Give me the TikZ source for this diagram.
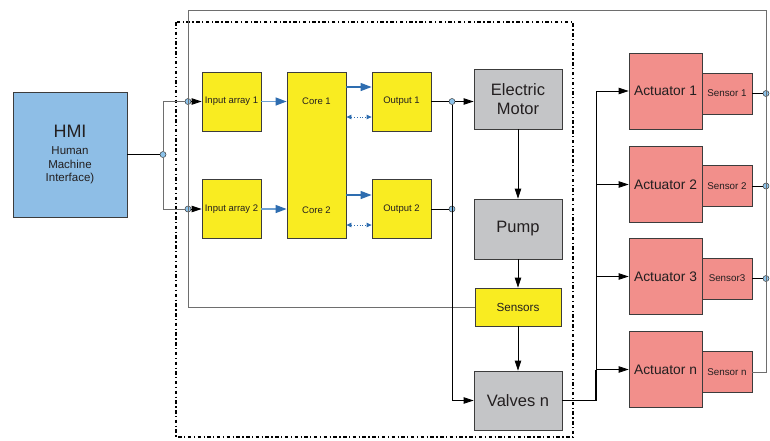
\documentclass[tikz,border=0pt]{standalone}
\usepackage{fontspec}
\setmainfont{Liberation Sans}
\usetikzlibrary{arrows.meta}
\definecolor{hmiblue}{RGB}{142,190,230}
\definecolor{boxyellow}{RGB}{249,236,33}
\definecolor{boxgray}{RGB}{196,197,199}
\definecolor{boxred}{RGB}{242,143,139}
\definecolor{dotblue}{RGB}{141,195,234}
\definecolor{edgegray}{RGB}{60,60,60}
\definecolor{wiregray}{RGB}{110,110,110}
\definecolor{flowblue}{RGB}{46,109,176}
\definecolor{lineblue}{RGB}{110,160,210}
\definecolor{inktext}{RGB}{35,31,32}
\begin{document}
\begin{tikzpicture}[x=1pt,y=-1pt,
  box/.style={draw=edgegray,line width=0.8pt,inner sep=0pt,text=inktext},
  smallbox/.style={box,fill=boxyellow,minimum width=59pt,minimum height=59pt,font=\fontsize{9.5}{11}\selectfont},
  plantbox/.style={box,fill=boxgray,minimum width=88pt,minimum height=60pt,font=\fontsize{16.5}{19}\selectfont,align=center},
  actbox/.style={box,fill=boxred,minimum width=73pt,minimum height=76pt,font=\fontsize{13.8}{15}\selectfont},
  sensbox/.style={box,fill=boxred,minimum width=50pt,minimum height=41pt,font=\fontsize{9.8}{11}\selectfont},
  junction/.style={circle,draw=edgegray,fill=dotblue,line width=0.5pt,inner sep=0pt,minimum size=6pt},
  wire/.style={draw=wiregray,line width=0.8pt},
  blackwire/.style={draw=black,line width=0.9pt},
  tip/.style={-{Triangle[length=10pt,width=6.5pt]}},
  feed/.style={draw=lineblue,line width=1.3pt,-{Triangle[length=11pt,width=8pt,color=flowblue]}},
  flow/.style={draw=flowblue,line width=1.3pt,-{Triangle[length=11pt,width=8pt]}},
  shared/.style={draw=flowblue,line width=0.8pt,dotted,{Triangle[length=5pt,width=4.5pt]}-{Triangle[length=5pt,width=4.5pt]}}]
\useasboundingbox (0,0) rectangle (770,440);

% controller boundary
\draw[line width=2.2pt,dash pattern=on 3.5pt off 2.5pt on 1.2pt off 2.5pt] (176,22) rectangle (573,437);

% boxes
\node[box,fill=hmiblue,minimum width=114pt,minimum height=125pt,align=center,font=\fontsize{11.5}{13.5}\selectfont] (hmi) at (70,154.5)
  {{\fontsize{18}{20}\selectfont HMI}\\[4pt]Human\\Machine\\Interface)};
\node[smallbox] (in1) at (231.5,101.5) {Input array 1};
\node[smallbox] (in2) at (231.5,209) {Input array 2};
\node[smallbox,minimum height=166pt] (core) at (316.5,155) {};
\node[text=inktext,font=\fontsize{9.5}{11}\selectfont] (core1) at (316.5,101) {Core 1};
\node[text=inktext,font=\fontsize{9.5}{11}\selectfont] (core2) at (316.5,210) {Core 2};
\node[smallbox] (out1) at (401.5,101.5) {Output 1};
\node[smallbox] (out2) at (401.5,209) {Output 2};
\node[plantbox] (motor) at (518,99) {Electric\\Motor};
\node[plantbox] (pump) at (518,229) {Pump};
\node[box,fill=boxyellow,minimum width=86pt,minimum height=38pt,font=\fontsize{11.7}{13}\selectfont] (sensors) at (518,307) {Sensors};
\node[plantbox,minimum height=59pt] (valves) at (518,400.5) {Valves n};
\node[actbox] (act1) at (665.5,91) {Actuator 1};
\node[actbox] (act2) at (665.5,184.5) {Actuator 2};
\node[actbox] (act3) at (665.5,276.5) {Actuator 3};
\node[actbox] (actn) at (665.5,369.5) {Actuator n};
\node[sensbox] (sens1) at (727,93.5) {Sensor 1};
\node[sensbox] (sens2) at (727,186) {Sensor 2};
\node[sensbox] (sens3) at (727,278.5) {Sensor3};
\node[sensbox] (sensn) at (727,372) {Sensor n};

% corners and junctions
\coordinate (fbleft) at (188,10);
\coordinate (fbright) at (766,10);
\coordinate (bus) at (596,400.5);
\node[junction] (hmidot) at (163,154.5) {};
\node[junction] (in1dot) at (188,101.5) {};
\node[junction] (in2dot) at (188,209) {};
\node[junction] (out1dot) at (452,101.5) {};
\node[junction] (out2dot) at (452,209) {};
\node[junction] (s1dot) at (766,93.5) {};
\node[junction] (s2dot) at (766,186) {};
\node[junction] (s3dot) at (766,278.5) {};

% feedback loop
\draw[wire] (sensors.west) -| (fbleft) -- (fbright) |- (sensn.east);
\draw[blackwire] (sens1.east) -- (s1dot);
\draw[blackwire] (sens2.east) -- (s2dot);
\draw[blackwire] (sens3.east) -- (s3dot);

% HMI to inputs
\draw[blackwire] (hmi.east) -- (hmidot);
\draw[wire] (in1dot) -| (hmidot) |- (in2dot);
\draw[blackwire,tip] (in1dot) -- (in1.west);
\draw[blackwire,tip] (in2dot) -- (in2.west);

% inside the controller
\draw[feed] (in1.east) -- (in1.east -| core.west);
\draw[feed] (in2.east) -- (in2.east -| core.west);
\draw[flow] ([yshift=14.5pt]out1.west -| core.east) -- ([yshift=14.5pt]out1.west);
\draw[flow] ([yshift=14pt]out2.west -| core.east) -- ([yshift=14pt]out2.west);
\draw[shared] ([yshift=-15.5pt]out1.west -| core.east) -- ([yshift=-15.5pt]out1.west);
\draw[shared] ([yshift=-16pt]out2.west -| core.east) -- ([yshift=-16pt]out2.west);

% outputs to the plant
\draw[blackwire] (out1.east) -- (out1dot);
\draw[blackwire] (out2.east) -- (out2dot);
\draw[blackwire,tip] (out1dot) -- (out1dot -| motor.west);
\draw[wire,tip,draw=black] (out1dot) |- (valves.west);
\draw[wire,tip,draw=black] (motor.south) -- (pump.north);
\draw[wire,tip,draw=black] (pump.south) -- (sensors.north);
\draw[wire,tip,draw=black] (sensors.south) -- (valves.north);

% valves to actuators
\draw[draw=black,line width=1.8pt] (valves.east) -- (bus) -- (bus |- actn.west);
\draw[wire,tip,draw=black] (bus) |- (act1.west);
\draw[wire,tip,draw=black] (bus) |- (act2.west);
\draw[wire,tip,draw=black] (bus) |- (act3.west);
\draw[wire,tip,draw=black] (bus) |- (actn.west);
\end{tikzpicture}
\end{document}
